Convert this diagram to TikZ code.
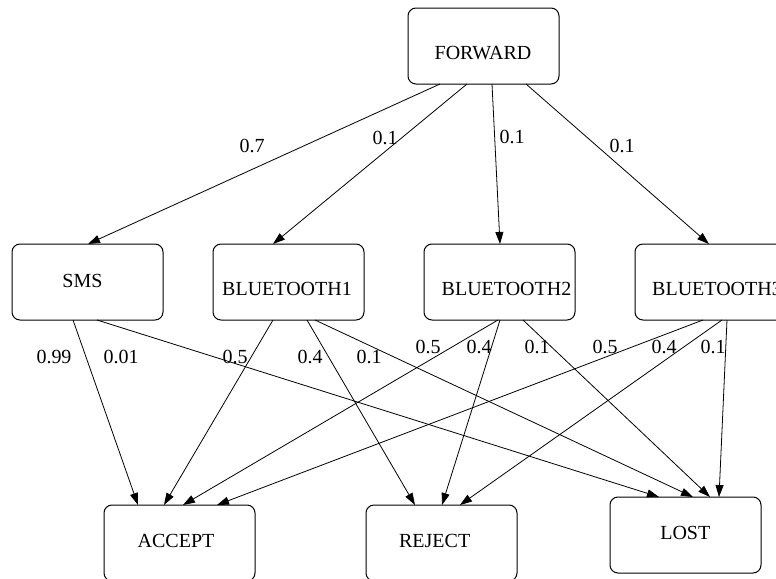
\documentclass[tikz,border=0pt]{standalone}
\usepackage{fontspec}
\setmainfont{Liberation Serif}
\usetikzlibrary{arrows.meta,calc}
\begin{document}
\begin{tikzpicture}[x=0.75pt,y=-0.75pt,
  box/.style={draw,rounded corners=6pt,line width=0.75pt,minimum width=113.25pt,minimum height=57pt,inner sep=0pt,outer sep=0pt},
  txt/.style={inner sep=0pt,font=\fontsize{15pt}{18pt}\selectfont},
  lbl/.style={inner sep=0pt,font=\fontsize{15pt}{18pt}\selectfont},
  edge/.style={line width=0.6pt,-{Triangle[length=9pt,width=6pt]}}]
\useasboundingbox (0,0) rectangle (776,579);
\clip (0,0) rectangle (776,579);
% boxes
\node[box] (forward) at (483.5,46) {};
\node[box] (sms) at (87.5,282) {};
\node[box] (bt1) at (288.5,282) {};
\node[box] (bt2) at (499.5,282) {};
\node[box] (bt3) at (710.5,282) {};
\node[box] (accept) at (179.5,543) {};
\node[box] (reject) at (441.5,543) {};
\node[box] (lost) at (685.5,535) {};
% box texts
\node[txt] (tforward) at (483,53) {FORWARD};
\node[txt] (tsms) at (82.5,281) {SMS};
\node[txt] (tbt1) at (287,289) {BLUETOOTH1};
\node[txt] (tbt2) at (506.5,289) {BLUETOOTH2};
\node[txt] (tbt3) at (717,289) {BLUETOOTH3};
\node[txt] (taccept) at (176,541) {ACCEPT};
\node[txt] (treject) at (434.7,541) {REJECT};
\node[txt] (tlost) at (685.3,533) {LOST};
% first layer
\draw[edge] ($(forward.south west)+(32,0)$) -- ($(sms.north west)+(76,0)$);
\draw[edge] ($(forward.south west)+(59,0)$) -- ($(bt1.north west)+(60,0)$);
\draw[edge] ($(forward.south west)+(84,0)$) -- ($(bt2.north west)+(76,0)$);
\draw[edge] ($(forward.south west)+(118,0)$) -- ($(bt3.north west)+(74,0)$);
\node[lbl] (l1) at (252,146) {0.7};
\node[lbl] (l2) at (385,138) {0.1};
\node[lbl] (l3) at (512,137) {0.1};
\node[lbl] (l4) at (622,146) {0.1};
% SMS
\draw[edge] ($(sms.south west)+(61,0)$) -- ($(accept.north west)+(34,0)$);
\draw[edge] ($(sms.south west)+(85,0)$) -- ($(lost.north west)+(49,0)$);
\node[lbl] (l5) at (54,357) {0.99};
\node[lbl] (l6) at (121,357) {0.01};
% BT1
\draw[edge] ($(bt1.south west)+(60,0)$) -- ($(accept.north west)+(60,0)$);
\draw[edge] ($(bt1.south west)+(94,0)$) -- ($(reject.north west)+(49,0)$);
\draw[edge] ($(bt1.south west)+(102,0)$) -- ($(lost.north west)+(83,0)$);
\node[lbl] (l7) at (235,357) {0.5};
\node[lbl] (l8) at (310,357) {0.4};
\node[lbl] (l9) at (369,357) {0.1};
% BT2
\draw[edge] ($(bt2.south west)+(74,0)$) -- ($(accept.north west)+(79,0)$);
\draw[edge] ($(bt2.south west)+(76,0)$) -- ($(reject.north west)+(76,0)$);
\draw[edge] ($(bt2.south west)+(99,0)$) -- ($(lost.north west)+(100,0)$);
\node[lbl] (l10) at (428,347) {0.5};
\node[lbl] (l11) at (479,347) {0.4};
\node[lbl] (l12) at (537,347) {0.1};
% BT3
\draw[edge] ($(bt3.south west)+(68,0)$) -- ($(accept.north west)+(113,0)$);
\draw[edge] ($(bt3.south west)+(87,0)$) -- ($(reject.north west)+(94,0)$);
\draw[edge] ($(bt3.south west)+(92,0)$) -- ($(lost.north west)+(109,0)$);
\node[lbl] (l13) at (605,347) {0.5};
\node[lbl] (l14) at (664,347) {0.4};
\node[lbl] (l15) at (713,347) {0.1};
\end{tikzpicture}
\end{document}
